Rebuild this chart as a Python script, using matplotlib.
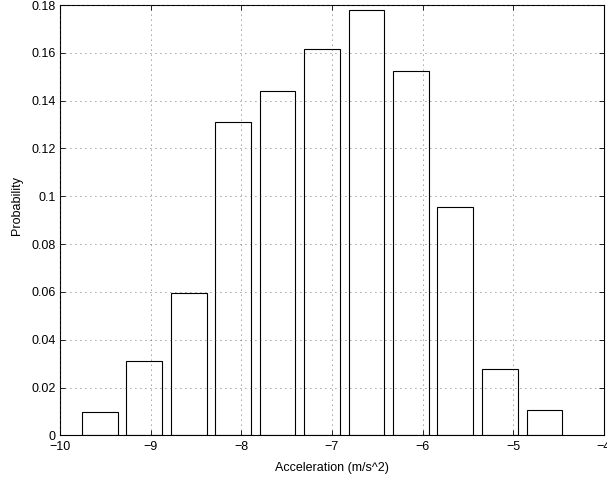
import numpy as np
import matplotlib
matplotlib.use('Agg')
import matplotlib.pyplot as plt

plt.rcParams['font.family'] = ['Liberation Sans', 'DejaVu Sans']
plt.rcParams['font.size'] = 9

# histogram data (bin centres and probabilities)
centers = [-9.56, -9.07, -8.58, -8.09, -7.60, -7.11, -6.62, -6.13, -5.64, -5.15, -4.655]
probs = [0.0099, 0.0311, 0.0597, 0.1311, 0.1442, 0.1616, 0.1778, 0.1525, 0.0955, 0.0278, 0.0105]

xticks = [-10, -9, -8, -7, -6, -5, -4]
xticklabels = ['\u221210', '\u22129', '\u22128', '\u22127', '\u22126', '\u22125', '\u22124']
yticks = [0, 0.02, 0.04, 0.06, 0.08, 0.10, 0.12, 0.14, 0.16, 0.18]
yticklabels = ['0', '0.02', '0.04', '0.06', '0.08', '0.1', '0.12', '0.14', '0.16', '0.18']

fig = plt.figure(figsize=(6.07, 4.78), dpi=100)
ax = fig.add_axes([0.0988, 0.0891, 0.8962, 0.9004])

ax.bar(centers, probs, width=0.393, color='white', edgecolor='black', linewidth=0.8)

ax.set_xlim(-10, -4)
ax.set_ylim(0, 0.18)
ax.set_xticks(xticks)
ax.set_xticklabels(xticklabels)
ax.set_yticks(yticks)
ax.set_yticklabels(yticklabels)

# grid drawn on top of the bars, matlab style
ax.set_axisbelow(False)
ax.grid(True, color='#444444', linestyle=(0, (1, 5)), linewidth=0.6)

ax.tick_params(direction='in', length=3.5, width=0.6, top=True, right=True, pad=3)
ax.tick_params(axis='x', pad=4)
for s in ax.spines.values():
    s.set_linewidth(0.8)

ax.set_xlabel('Acceleration (m/s^2)', labelpad=2)
ax.set_ylabel('Probability')
ax.yaxis.set_label_coords(-0.068, 0.535)
ax.xaxis.set_label_coords(0.5, -0.061)

fig.savefig('out.png', dpi=100)
